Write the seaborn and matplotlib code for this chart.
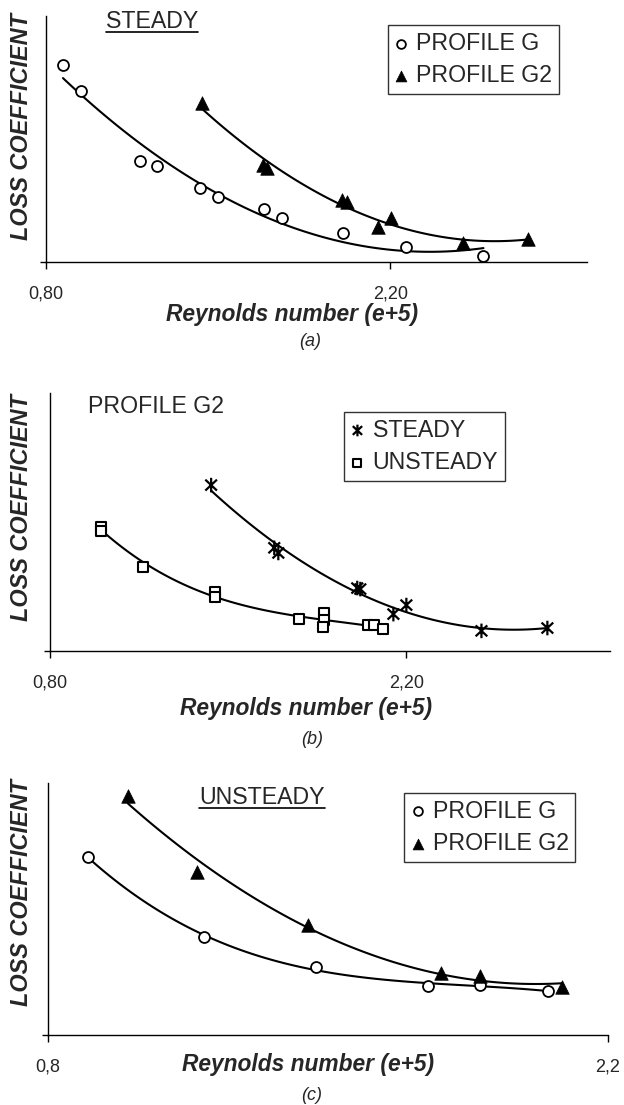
import numpy as np
import pandas as pd
import matplotlib
matplotlib.use("Agg")
import matplotlib.pyplot as plt
from matplotlib.lines import Line2D
from matplotlib.path import Path
from matplotlib.transforms import IdentityTransform
import seaborn as sns

# ---- data (Reynolds number in e+5, loss coefficient in relative units) ----
# (a) steady flow
a_g_re = [0.869, 0.942, 1.183, 1.252, 1.427, 1.500, 1.687, 1.761, 2.009, 2.262, 2.579]
a_g_loss = [0.801, 0.695, 0.411, 0.390, 0.301, 0.264, 0.215, 0.179, 0.118, 0.061, 0.024]
a_g2_re = [1.435, 1.683, 1.699, 2.005, 2.025, 2.151, 2.204, 2.497, 2.762]
a_g2_loss = [0.646, 0.394, 0.382, 0.252, 0.244, 0.143, 0.179, 0.077, 0.093]

# (b) profile G2, steady vs unsteady
b_steady_re = [1.433, 1.681, 1.697, 2.007, 2.019, 2.149, 2.200, 2.495, 2.754]
b_steady_loss = [0.643, 0.400, 0.380, 0.244, 0.240, 0.143, 0.178, 0.078, 0.089]
b_unsteady_re = [1.001, 1.001, 1.166, 1.449, 1.449, 1.779, 1.877, 1.877, 1.874, 2.050, 2.074, 2.109]
b_unsteady_loss = [0.481, 0.465, 0.326, 0.229, 0.209, 0.124, 0.147, 0.120, 0.093, 0.101, 0.101, 0.085]

# (c) unsteady flow
c_g_re = [0.900, 1.190, 1.470, 1.750, 1.880, 2.050]
c_g_loss = [0.706, 0.389, 0.270, 0.194, 0.198, 0.175]
c_g2_re = [1.000, 1.173, 1.450, 1.783, 1.880, 2.085]
c_g2_loss = [0.948, 0.647, 0.437, 0.246, 0.234, 0.190]

ticks_ab = [0.80, 2.20]
ticklabels_ab = ["0,80", "2,20"]
ticks_c = [0.8, 2.2]
ticklabels_c = ["0,8", "2,2"]

sns.set_theme(style="white")
plt.rcParams["font.family"] = ["Liberation Sans", "DejaVu Sans"]

W, H = 624, 1105
fig = plt.figure(figsize=(W / 100, H / 100), dpi=100)


def px_axes(left, top, right, bottom):
    return fig.add_axes([left / W, 1 - bottom / H, (right - left) / W, (bottom - top) / H])


ax_a = px_axes(46, 16, 587, 262)
ax_b = px_axes(50, 393, 610, 651)
ax_c = px_axes(48, 783, 608, 1035)

# asterisk: an X crossed by a vertical bar
STAR = Path([(0, -1), (0, 1), (-0.8, -0.75), (0.8, 0.75), (-0.8, 0.75), (0.8, -0.75)],
            [Path.MOVETO, Path.LINETO, Path.MOVETO, Path.LINETO, Path.MOVETO, Path.LINETO])

STYLES = {
    "circle": dict(marker="o", s=62, facecolor="white", edgecolor="black", linewidth=1.3),
    "triangle": dict(marker="^", s=95, color="black", edgecolor="black", linewidth=0.5),
    "square": dict(marker="s", s=52, facecolor="white", edgecolor="black", linewidth=1.5),
    "star": dict(marker=STAR, s=110, facecolor="none", edgecolor="black", linewidth=1.6),
}


def series(ax, re, loss, kind, label, order=2):
    df = pd.DataFrame({"re": re, "loss": loss})
    sns.regplot(data=df, x="re", y="loss", order=order, ci=None, scatter=False,
                ax=ax, line_kws=dict(color="black", linewidth=1.5))
    sns.scatterplot(data=df, x="re", y="loss", ax=ax, label=label, zorder=3,
                    **STYLES[kind])


def style_axes(ax, xlim, ticks, labels):
    ax.set_xlim(*xlim)
    ax.set_ylim(0, 1)
    ax.set_xticks(ticks)
    ax.set_xticklabels(labels, fontsize=13)
    ax.set_yticks([0])
    ax.set_yticklabels([""])
    ax.tick_params(axis="x", direction="out", length=5, width=1, color="black",
                   pad=12, bottom=True)
    ax.tick_params(axis="y", direction="out", length=4, width=1, color="black", left=True)
    for side in ("top", "right"):
        ax.spines[side].set_visible(False)
    for side in ("left", "bottom"):
        ax.spines[side].set_color("black")
        ax.spines[side].set_linewidth(1.0)
    ax.set_xlabel("")
    ax.set_ylabel("")
    ax.patch.set_alpha(0)


def legend(ax, anchor):
    leg = ax.legend(loc="upper left", bbox_to_anchor=anchor, borderaxespad=0,
                    frameon=True, fancybox=False, edgecolor="black", fontsize=16.7,
                    markerscale=0.8, handlelength=0.6, handletextpad=0.35,
                    labelspacing=0.42, borderpad=0.28)
    leg.get_frame().set_linewidth(1.0)


# (a)
series(ax_a, a_g_re, a_g_loss, "circle", "PROFILE G")
series(ax_a, a_g2_re, a_g2_loss, "triangle", "PROFILE G2")
style_axes(ax_a, (0.8, 3.0), ticks_ab, ticklabels_ab)
legend(ax_a, (0.632, 0.963))

# (b)
series(ax_b, b_steady_re, b_steady_loss, "star", "STEADY")
series(ax_b, b_unsteady_re, b_unsteady_loss, "square", "UNSTEADY", order=3)
style_axes(ax_b, (0.8, 3.0), ticks_ab, ticklabels_ab)
legend(ax_b, (0.525, 0.926))

# (c)
series(ax_c, c_g_re, c_g_loss, "circle", "PROFILE G", order=3)
series(ax_c, c_g2_re, c_g2_loss, "triangle", "PROFILE G2")
style_axes(ax_c, (0.8, 2.2), ticks_c, ticklabels_c)
legend(ax_c, (0.636, 0.960))

# panel headings
head = dict(fontsize=16.7, ha="left", va="center")
t_a = ax_a.text(0.111, 0.976, "STEADY", transform=ax_a.transAxes, **head)
ax_b.text(0.068, 0.946, "PROFILE G2", transform=ax_b.transAxes, **head)
t_c = ax_c.text(0.270, 0.944, "UNSTEADY", transform=ax_c.transAxes, **head)

# axis titles and captions
bi = dict(fontweight="bold", fontstyle="italic")
for yc in (126, 508, 893):
    fig.text(22 / W, 1 - yc / H, "LOSS COEFFICIENT", rotation=90, ha="center",
             va="center", fontsize=16.9, **bi)
for xc, yc in ((292, 315), (306, 708), (308, 1065)):
    fig.text(xc / W, 1 - yc / H, "Reynolds number (e+5)", ha="center", va="center",
             fontsize=16.4, **bi)
for xc, yc, s in ((310, 342, "(a)"), (312, 740, "(b)"), (312, 1095, "(c)")):
    fig.text(xc / W, 1 - yc / H, s, ha="center", va="center", fontsize=13,
             fontstyle="italic")

# underline the STEADY / UNSTEADY headings
fig.canvas.draw()
renderer = fig.canvas.get_renderer()
for t in (t_a, t_c):
    bb = t.get_window_extent(renderer)
    fig.add_artist(Line2D([bb.x0, bb.x1], [bb.y0 + 1, bb.y0 + 1], color="black",
                          linewidth=1.2, transform=IdentityTransform()))

fig.savefig("out.png", dpi=100)
